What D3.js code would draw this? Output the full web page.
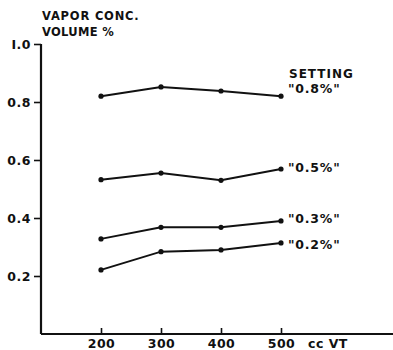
<!DOCTYPE html>
<html>
<head>
<meta charset="utf-8">
<script src="https://cdn.jsdelivr.net/npm/d3@7"></script>
<style>
  body { margin: 0; background: #fff; }
  text { font-family: "DejaVu Sans", sans-serif; font-weight: bold; fill: #111; }
</style>
</head>
<body>
<div id="chart"></div>
<script>
// Data
const volumes = [200, 300, 400, 500];
const settings = ['"0.8%"', '"0.5%"', '"0.3%"', '"0.2%"'];
const conc08 = [0.82, 0.852, 0.838, 0.82];
const conc05 = [0.532, 0.555, 0.53, 0.569];
const conc03 = [0.328, 0.368, 0.368, 0.39];
const conc02 = [0.221, 0.284, 0.29, 0.314];
const yTicks = [0.2, 0.4, 0.6, 0.8, 1.0];
const yTickLabels = ["0.2", "0.4", "0.6", "0.8", "I.0"];

const W = 393, H = 350;
const svg = d3.select("#chart").append("svg")
    .attr("width", W).attr("height", H);

// Scales
const x = d3.scaleLinear().domain([100, 500]).range([41, 281]);
const y = d3.scaleLinear().domain([0, 1.0]).range([334, 44]);

// Y axis
const yAxis = svg.append("g")
    .attr("transform", "translate(" + x(100) + ",0)")
    .call(d3.axisLeft(y).tickValues(yTicks).tickSize(7).tickPadding(3)
        .tickFormat((d, i) => yTickLabels[i]));
yAxis.select(".domain").attr("d", "M0," + y(1.0) + "V" + y(0));
yAxis.selectAll("text").style("font-size", "12.5px").style("letter-spacing", "0.5px");

// X axis, ticks pointing up
const xAxis = svg.append("g")
    .attr("transform", "translate(0," + y(0) + ")")
    .call(d3.axisBottom(x).tickValues(volumes).tickSize(-6).tickPadding(5));
xAxis.select(".domain").attr("d", "M" + x(100) + ",0H" + W);
xAxis.selectAll("text").style("font-size", "12.5px").style("letter-spacing", "0.5px");
svg.selectAll(".domain").attr("stroke", "#111").attr("stroke-width", 2.2);
svg.selectAll(".tick line").attr("stroke", "#111").attr("stroke-width", 1.6);

svg.append("text").attr("x", 308).attr("y", 348)
    .style("font-size", "12.5px").style("letter-spacing", "0.5px").text("cc VT");

// Axis title
svg.append("text").attr("x", 42).attr("y", 20)
    .style("font-size", "11.5px").style("letter-spacing", "0.8px").text("VAPOR CONC.");
svg.append("text").attr("x", 42).attr("y", 36)
    .style("font-size", "11.5px").style("letter-spacing", "0.3px").text("VOLUME %");

// Series
const series = [conc08, conc05, conc03, conc02];
const line = d3.line().x((d, i) => x(volumes[i])).y(d => y(d));

series.forEach((vals, k) => {
    svg.append("path")
        .attr("d", line(vals))
        .attr("fill", "none")
        .attr("stroke", "#111")
        .attr("stroke-width", 2);
    svg.selectAll(null)
        .data(vals)
        .enter()
        .append("circle")
        .attr("cx", (d, i) => x(volumes[i]))
        .attr("cy", d => y(d))
        .attr("r", 2.6)
        .attr("fill", "#111");
});

// Labels at right end
const labelY = [93, 172, 223, 249];
svg.append("text").attr("x", 289).attr("y", 78)
    .style("font-size", "12px").style("letter-spacing", "1px").text("SETTING");
settings.forEach((s, k) => {
    svg.append("text").attr("x", 288).attr("y", labelY[k])
        .style("font-size", "12.5px").style("letter-spacing", "0.8px").text(s);
});
</script>
</body>
</html>
